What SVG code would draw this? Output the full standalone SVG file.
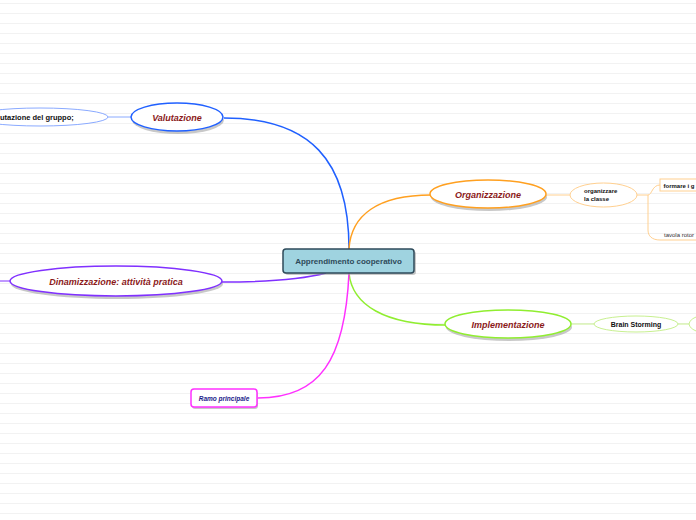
<svg xmlns="http://www.w3.org/2000/svg" width="696" height="520" viewBox="0 0 696 520">
<defs>
<pattern id="lines" x="0" y="3" width="696" height="10" patternUnits="userSpaceOnUse">
<line x1="0" y1="0.5" x2="696" y2="0.5" stroke="#f2f2f2" stroke-width="1"/>
</pattern>
</defs>
<style>
text{font-family:"Liberation Sans",Arial,sans-serif;}
.main{font-weight:bold;font-style:italic;font-size:9px;fill:#8b1a1a;text-anchor:middle;}
.sub{font-weight:bold;fill:#111;}
.shadow{fill:#9a9a9a;opacity:0.55;}
.conn{fill:none;stroke-width:1.5;}
</style>
<rect width="696" height="520" fill="#fff"/>
<rect width="696" height="520" fill="url(#lines)"/>

<g id="connectors">
<path class="conn" d="M349,249 C349,160 310,118 224,118" stroke="#2060ff"/>
<path class="conn" d="M349,249 C351,215 378,195 431,195" stroke="#ffa020"/>
<path class="conn" d="M349,273 C352,305 385,325 446,325" stroke="#90ee30"/>
<path class="conn" d="M326,273 C300,280 260,282 222,282" stroke="#8030ff"/>
<path class="conn" d="M349,273 C345,360 320,398 258,398" stroke="#ff30ff"/>
<line x1="131" y1="117" x2="108" y2="117" stroke="#8aaaff" stroke-width="1"/>
<line x1="10" y1="281" x2="0" y2="281" stroke="#8030ff" stroke-width="1"/>
<line x1="546" y1="195" x2="570" y2="195" stroke="#ffd090" stroke-width="1"/>
<path d="M637,195 H648 C652,195 652,185 660,185" fill="none" stroke="#ffd090" stroke-width="1"/>
<path d="M648,195 V230 C648,236 652,240 660,240 H696" fill="none" stroke="#ffd090" stroke-width="1"/>
<line x1="571" y1="324" x2="595" y2="324" stroke="#c8f090" stroke-width="1"/>
<line x1="678" y1="324" x2="690" y2="324" stroke="#c8f090" stroke-width="1"/>
</g>

<g id="central">
<rect x="285" y="251" width="131" height="24" rx="3" class="shadow"/>
<rect x="283" y="249" width="131" height="24" rx="3" fill="#9fd3e0" stroke="#2e4a5a" stroke-width="1.5"/>
<text x="348.5" y="264" font-size="8" font-weight="bold" fill="#2e4a5a" text-anchor="middle">Apprendimento cooperativo</text>
</g>

<g id="valutazione">
<ellipse cx="178" cy="120" rx="46" ry="14" class="shadow"/>
<ellipse cx="177" cy="117" rx="46" ry="14" fill="#fff" stroke="#2060ff" stroke-width="1.5"/>
<text x="177" y="120.5" class="main">Valutazione</text>
</g>

<g id="valutazione-gruppo">
<ellipse cx="40" cy="117" rx="68" ry="9" fill="#fff" stroke="#8aaaff" stroke-width="1"/>
<text x="0" y="120" class="sub" font-size="7.5">utazione del gruppo;</text>
</g>

<g id="organizzazione">
<ellipse cx="489" cy="197" rx="58" ry="14" class="shadow"/>
<ellipse cx="488" cy="194" rx="58" ry="14" fill="#fff" stroke="#ffa020" stroke-width="1.5"/>
<text x="488" y="198" class="main">Organizzazione</text>
</g>

<g id="organizzare">
<ellipse cx="603.5" cy="195" rx="33.5" ry="12" fill="#fff" stroke="#ffd090" stroke-width="1"/>
<text x="584" y="193" class="sub" font-size="6">organizzare</text>
<text x="584" y="200.5" class="sub" font-size="6">la classe</text>
</g>

<g id="formare">
<rect x="660" y="179" width="50" height="12" fill="#fff" stroke="#ffd090" stroke-width="1"/>
<text x="663.5" y="188" class="sub" font-size="6">formare i g</text>
</g>

<g id="tavola">
<text x="664" y="237" font-size="6" fill="#333">tavola rotor</text>
</g>

<g id="implementazione">
<ellipse cx="509" cy="327" rx="63" ry="14" class="shadow"/>
<ellipse cx="508" cy="324" rx="63" ry="14" fill="#fff" stroke="#90ee30" stroke-width="1.5"/>
<text x="508" y="328" class="main">Implementazione</text>
</g>

<g id="brainstorming">
<ellipse cx="636" cy="324" rx="42" ry="8" fill="#fff" stroke="#c8f090" stroke-width="1"/>
<text x="636" y="326.5" class="sub" font-size="7" text-anchor="middle">Brain Storming</text>
</g>

<g id="brain-child">
<ellipse cx="740" cy="324" rx="51" ry="14" fill="#fff" stroke="#c8f090" stroke-width="1"/>
</g>

<g id="dinamizzazione">
<ellipse cx="117" cy="284" rx="106" ry="15" class="shadow"/>
<ellipse cx="116" cy="281" rx="106" ry="15" fill="#fff" stroke="#8030ff" stroke-width="1.5"/>
<text x="116" y="284.5" class="main">Dinamizzazione: attività pratica</text>
</g>

<g id="ramo">
<rect x="192" y="391" width="66" height="18" rx="3" class="shadow"/>
<rect x="191" y="389" width="66" height="18" rx="3" fill="#fff" stroke="#ff30ff" stroke-width="1.5"/>
<text x="224" y="400.5" font-size="6.5" font-weight="bold" font-style="italic" fill="#1a1a8a" text-anchor="middle">Ramo principale</text>
</g>
</svg>
